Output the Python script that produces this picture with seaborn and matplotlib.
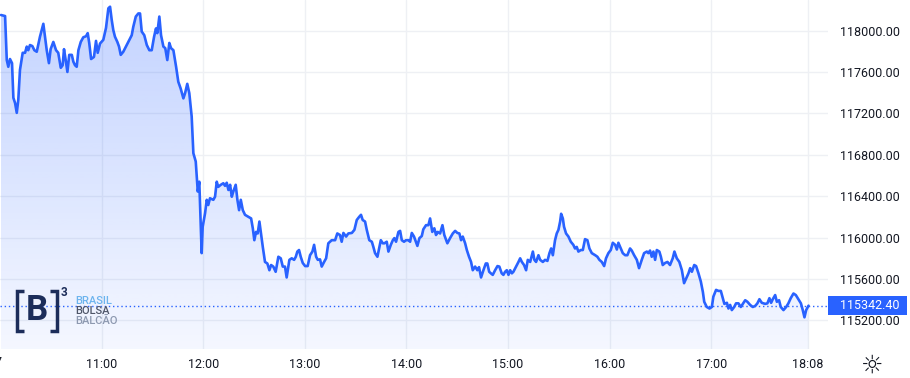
import numpy as np
import pandas as pd
import matplotlib
matplotlib.use("Agg")
import matplotlib.pyplot as plt
import seaborn as sns
from matplotlib.patches import Rectangle
from matplotlib.lines import Line2D

# ---- data: bar position (minutes since 10:00, index-based axis) and price ----
minutes = [0.6, 3.0, 4.0, 4.9, 5.9, 7.1, 7.9, 8.9, 9.9, 10.8, 11.8, 13.4, 14.8, 15.8, 16.7, 17.7, 19.1, 20.3, 21.7, 23.6,
           25.6, 26.6, 27.6, 28.9, 29.9, 31.5, 33.1, 34.4, 35.9, 37.0, 37.8, 38.8, 39.8, 40.9, 42.4, 43.3, 44.3, 45.3, 46.3, 47.7,
           49.2, 50.8, 51.8, 52.7, 53.8, 55.5, 56.7, 57.7, 59.1, 61.0, 62.6, 64.0, 65.0, 66.0, 66.9, 67.9, 69.3, 70.3, 71.3, 72.8,
           74.8, 76.4, 77.8, 78.7, 80.2, 81.7, 82.7, 83.7, 85.2, 86.7, 88.2, 89.6, 91.0, 92.1, 92.9, 94.1, 95.1, 96.5, 97.6, 98.8,
           100.0, 101.0, 102.4, 104.0, 105.3, 106.7, 108.3, 109.3, 110.6, 111.8, 113.2, 114.2, 115.6, 116.8, 117.7, 119.1, 119.7, 121.1, 122.1, 123.0,
           124.0, 126.0, 127.0, 128.0, 128.9, 130.4, 131.9, 132.9, 133.9, 134.9, 135.9, 136.9, 137.8, 139.2, 140.2, 141.2, 142.2, 143.4, 144.7, 146.7,
           148.3, 149.3, 150.2, 151.2, 152.2, 153.2, 155.2, 156.5, 157.9, 159.1, 160.1, 161.4, 162.8, 164.4, 165.8, 167.0, 168.3, 169.3, 170.9, 172.3,
           173.7, 174.7, 175.6, 176.6, 177.6, 178.8, 180.2, 181.7, 183.1, 184.5, 185.5, 186.7, 187.7, 189.0, 190.0, 191.4, 192.6, 193.9, 195.9, 197.9,
           199.2, 200.8, 201.8, 202.8, 204.4, 205.7, 207.8, 209.3, 210.7, 212.1, 213.2, 214.2, 215.6, 216.6, 218.1, 219.6, 220.5, 221.5, 222.9, 223.9,
           224.9, 226.1, 227.0, 228.4, 229.4, 230.8, 232.0, 232.9, 233.9, 235.3, 236.3, 237.3, 238.6, 239.8, 241.2, 242.2, 243.2, 244.5, 246.5, 247.7,
           249.1, 250.0, 251.6, 253.0, 254.0, 255.3, 256.5, 257.5, 258.5, 259.9, 261.3, 262.4, 264.2, 265.8, 267.4, 268.8, 270.1, 271.3, 272.3, 273.3,
           274.7, 275.7, 277.0, 278.2, 279.2, 280.6, 281.9, 282.9, 284.1, 285.5, 286.9, 287.8, 288.9, 289.9, 291.0, 292.4, 293.8, 294.9, 296.3, 297.3,
           298.3, 299.3, 300.3, 301.3, 302.3, 303.2, 304.8, 306.2, 307.2, 308.2, 309.5, 310.7, 311.7, 313.1, 314.7, 315.6, 316.6, 318.0, 319.0, 320.6,
           321.9, 323.3, 324.5, 325.5, 326.5, 327.8, 328.8, 329.8, 330.8, 331.4, 332.4, 333.1, 334.3, 335.7, 337.1, 338.6, 339.6, 340.6, 341.6, 343.0,
           344.2, 345.5, 346.9, 348.1, 349.5, 351.5, 352.8, 354.0, 355.4, 356.8, 357.9, 359.3, 360.7, 361.9, 363.3, 364.3, 365.2, 366.6, 367.8, 369.2,
           370.5, 372.1, 373.1, 374.5, 376.1, 377.4, 379.0, 380.4, 382.0, 382.9, 383.9, 384.9, 385.9, 386.9, 387.9, 389.4, 390.3, 391.4, 392.8, 394.2,
           395.7, 397.3, 398.3, 399.7, 401.2, 402.7, 404.0, 405.2, 406.6, 407.6, 408.6, 410.0, 411.1, 412.5, 413.9, 415.1, 415.9, 417.4, 419.0, 420.4,
           421.3, 422.9, 424.3, 425.7, 426.9, 427.8, 429.3, 430.2, 431.2, 432.2, 433.6, 434.7, 436.1, 437.5, 438.7, 440.1, 441.4, 443.0, 444.6, 446.0,
           447.3, 448.5, 449.9, 451.9, 453.2, 454.4, 455.4, 456.4, 457.8, 458.8, 460.1, 461.1, 462.7, 464.3, 465.6, 467.0, 468.6, 470.0, 471.5, 473.0,
           474.1, 475.1, 476.1, 477.5]

prices = [118150, 118140, 117715, 117650, 117725, 117685, 117350, 117300, 117205, 117330, 117620, 117785, 117785, 117845, 117810, 117860, 117850, 117810, 117795, 117940,
          118065, 117940, 117810, 117685, 117820, 117890, 117810, 117785, 117640, 117665, 117820, 117715, 117600, 117765, 117765, 117700, 117665, 117650, 117810, 117890,
          117935, 117945, 117975, 117880, 117725, 117745, 117900, 117785, 117875, 117910, 118025, 118215, 118230, 118100, 118005, 117940, 117890, 117845, 117765, 117795,
          117860, 117910, 117955, 118035, 118135, 118165, 118165, 117990, 117955, 117860, 117810, 117810, 117940, 118020, 117975, 118135, 117955, 117845, 117830, 117715,
          117880, 117830, 117810, 117650, 117505, 117440, 117345, 117395, 117485, 117395, 117170, 116815, 116735, 116445, 116540, 115850, 116105, 116235, 116365, 116315,
          116380, 116365, 116395, 116540, 116490, 116510, 116525, 116500, 116530, 116460, 116510, 116395, 116445, 116510, 116365, 116265, 116365, 116265, 116220, 116200,
          116185, 116090, 115975, 116055, 116040, 116155, 115910, 115765, 115750, 115685, 115735, 115720, 115670, 115815, 115800, 115720, 115720, 115615, 115785, 115800,
          115785, 115815, 115865, 115880, 115815, 115755, 115725, 115725, 115830, 115865, 115930, 115815, 115785, 115790, 115720, 115765, 115800, 115945, 115975, 115975,
          116040, 116025, 115960, 116045, 116010, 116040, 116045, 116075, 116170, 116200, 116220, 116170, 116155, 116075, 115975, 115960, 115910, 115850, 115815, 115895,
          115975, 115945, 115945, 115960, 115865, 115930, 115975, 115995, 115960, 116055, 116065, 115975, 115960, 115975, 115975, 115960, 116045, 116010, 115920, 115995,
          116015, 116080, 116120, 116120, 116185, 116055, 116090, 116025, 116055, 116040, 116120, 116025, 115945, 115995, 116040, 116065, 116045, 116040, 115975, 116010,
          115945, 115880, 115815, 115765, 115685, 115720, 115685, 115715, 115615, 115685, 115750, 115750, 115670, 115655, 115640, 115685, 115725, 115720, 115655, 115640,
          115670, 115685, 115640, 115685, 115655, 115670, 115720, 115765, 115800, 115765, 115735, 115685, 115785, 115765, 115865, 115785, 115765, 115830, 115785, 115765,
          115785, 115775, 115850, 115895, 115830, 115975, 116040, 116075, 116155, 116230, 116185, 116105, 116040, 116010, 115960, 115930, 115895, 115910, 115865, 115880,
          115880, 115985, 115975, 115895, 115850, 115830, 115815, 115785, 115765, 115725, 115800, 115850, 115880, 115950, 115930, 115885, 115950, 115895, 115850, 115830,
          115830, 115895, 115875, 115830, 115785, 115705, 115785, 115850, 115865, 115850, 115875, 115815, 115865, 115785, 115880, 115865, 115815, 115735, 115755, 115765,
          115735, 115800, 115865, 115800, 115765, 115685, 115560, 115605, 115655, 115705, 115670, 115735, 115725, 115655, 115575, 115475, 115380, 115330, 115315, 115330,
          115430, 115495, 115485, 115485, 115415, 115360, 115370, 115315, 115350, 115300, 115330, 115365, 115365, 115330, 115360, 115395, 115380, 115350, 115330, 115340,
          115365, 115405, 115370, 115360, 115365, 115415, 115370, 115405, 115445, 115380, 115395, 115330, 115300, 115330, 115365, 115415, 115460, 115445, 115405, 115365,
          115300, 115230, 115300, 115342.40]

last_price = 115342.40
time_ticks = [60, 120, 180, 240, 300, 360, 420, 477]
time_labels = ["11:00", "12:00", "13:00", "14:00", "15:00", "16:00", "17:00", "18:08"]
price_ticks = [115200, 115600, 116000, 116400, 116800, 117200, 117600, 118000]

# ---- style ----
sns.set_theme(style="white")
plt.rcParams["font.family"] = ["Roboto", "DejaVu Sans"]

W, H = 910, 378
fig = plt.figure(figsize=(W / 100, H / 100), dpi=100)
fig.patch.set_facecolor("white")
plot_right, plot_bottom = 828, 349
ax = fig.add_axes([0, 1 - plot_bottom / H, plot_right / W, plot_bottom / H])
ax.set_facecolor("white")

ymin, ymax = 114924, 118295
xmin, xmax = 0, 489

df = pd.DataFrame({"minute": minutes, "price": prices})
blue = "#2962ff"

# gradient area fill under the line
poly = ax.fill_between(df["minute"], df["price"], ymin, color="none", lw=0)
clip = poly.get_paths()[0]
n = 256
rgba = np.zeros((n, 1, 4))
rgba[..., 0] = 41 / 255
rgba[..., 1] = 98 / 255
rgba[..., 2] = 1.0
rgba[..., 3] = np.linspace(0.28, 0.05, n).reshape(-1, 1)
im = ax.imshow(rgba, extent=[xmin, xmax, ymin, df["price"].max()], aspect="auto",
               origin="upper", zorder=1, interpolation="bilinear")
im.set_clip_path(clip, transform=ax.transData)

sns.lineplot(data=df, x="minute", y="price", ax=ax, color=blue, linewidth=1.9,
             estimator=None, sort=False, zorder=3)
ax.axhline(last_price, color=blue, lw=1.0, ls=(0, (1, 2)), zorder=2)
ax.set_xlim(xmin, xmax)
ax.set_ylim(ymin, ymax)

# axes/ticks
ax.set_xlabel("")
ax.set_ylabel("")
ax.set_xticks(time_ticks)
ax.set_xticklabels(time_labels)
ax.yaxis.tick_right()
ax.set_yticks(price_ticks)
ax.set_yticklabels([f"{p:.2f}" for p in price_ticks])
ax.tick_params(axis="x", length=0, labelsize=9, colors="#131722", pad=6.8)
ax.tick_params(axis="y", length=0, labelsize=9, colors="#131722", pad=8.6)
ax.grid(True, color="#eef0f4", lw=1, zorder=0)
ax.set_axisbelow(True)
for s in ax.spines.values():
    s.set_visible(False)

# last price label box
box_h = 19 * (ymax - ymin) / plot_bottom
box_w = (907 - plot_right) / plot_right
trans = ax.get_yaxis_transform()
ax.add_patch(Rectangle((1.0, last_price - box_h / 2), box_w, box_h, transform=trans,
                       facecolor=blue, edgecolor="none", clip_on=False, zorder=6))
ax.text(1.0 + 12 / plot_right, last_price, f"{last_price:.2f}", transform=trans,
        color="white", fontsize=9, ha="left", va="center", zorder=7, clip_on=False)

# B3 logo
def fx(x):
    return x / W

def fy(y):
    return 1 - y / H

navy = "#1c2d5a"
lw_b = 2.5
for xs, ys in [([24, 17, 17, 24], [291, 291, 331, 331]), ([50, 57, 57, 50], [291, 291, 331, 331])]:
    fig.add_artist(Line2D([fx(v) for v in xs], [fy(v) for v in ys], color=navy, lw=lw_b,
                          solid_capstyle="butt", solid_joinstyle="miter", transform=fig.transFigure))
fig.text(fx(37), fy(311), "B", fontsize=25, fontweight="bold", color=navy, ha="center", va="center")
fig.text(fx(64), fy(292), "3", fontsize=8.5, fontweight="bold", color=navy, ha="center", va="center")
fig.text(fx(75), fy(301.5), "BRASIL", fontsize=8, fontweight="medium", color="#6cb4ee", ha="left", va="center")
fig.text(fx(75), fy(311), "BOLSA", fontsize=8, fontweight="medium", color="#4e5568", ha="left", va="center")
fig.text(fx(75), fy(320.5), "BALCÃO", fontsize=8, fontweight="medium", color="#8d99b0", ha="left", va="center")

# clipped label at left edge and settings icon
fig.text(fx(-5), fy(363), "27", fontsize=9, color="#131722", ha="center", va="center")
fig.text(fx(872), fy(366), "☼", fontsize=18, color="#131722", ha="center", va="center",
         family="DejaVu Sans")

fig.savefig("out.png", dpi=100)
